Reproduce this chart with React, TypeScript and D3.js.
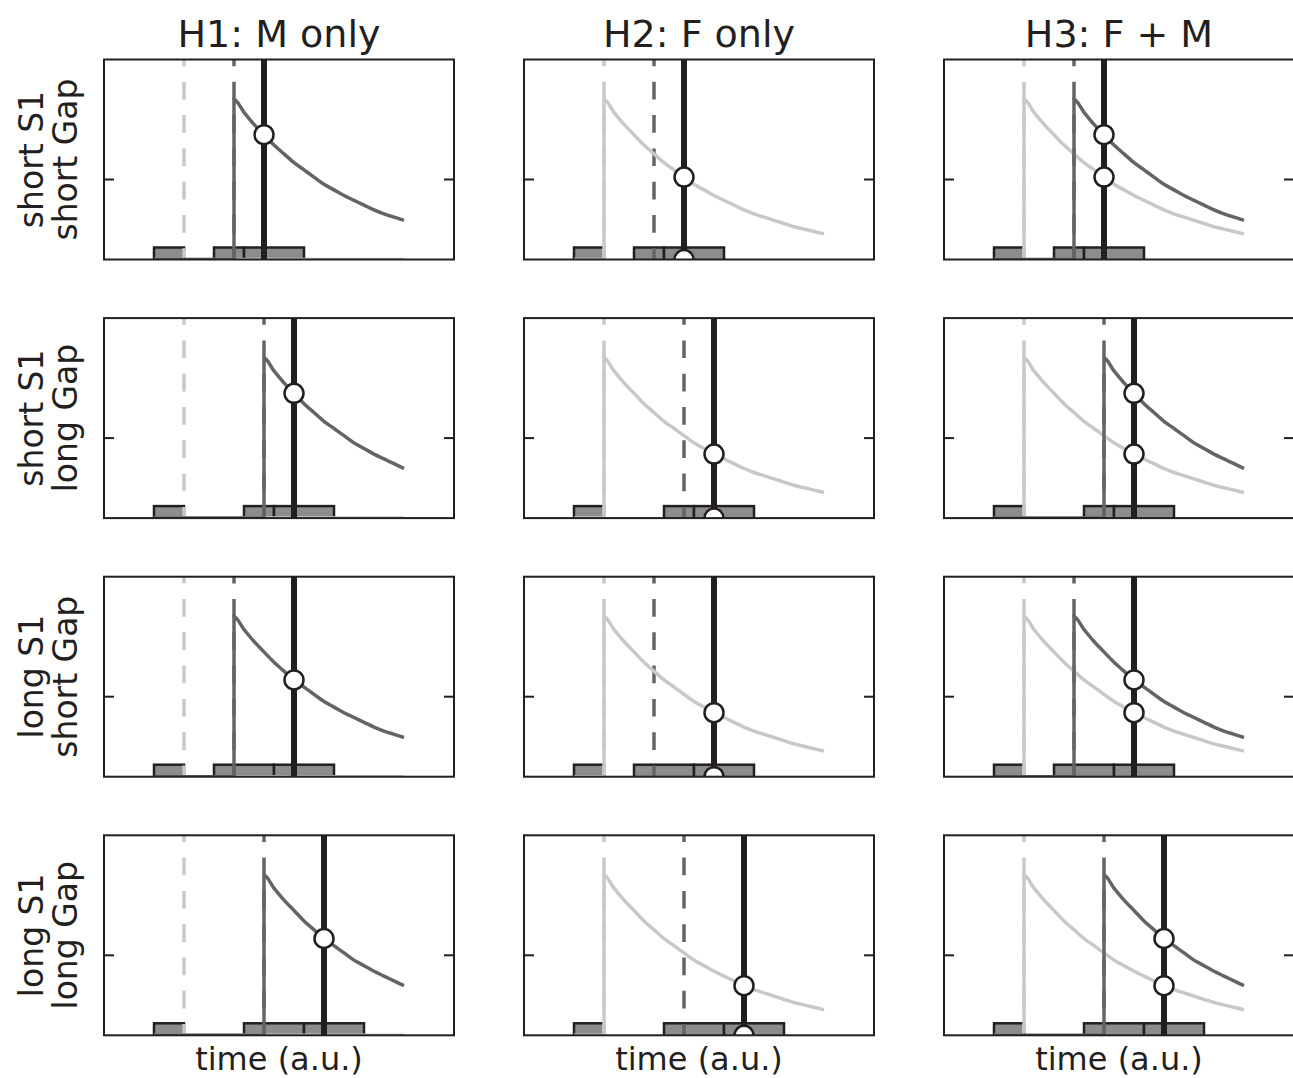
import React from "react";
import * as d3 from "d3";

// ---- data ----
const hypotheses = ["H1: M only", "H2: F only", "H3: F + M"];
const showF = [false, true, true];
const showM = [true, false, true];
const rowLabelTop = ["short S1", "short S1", "long S1", "long S1"];
const rowLabelBottom = ["short Gap", "long Gap", "short Gap", "long Gap"];
const cueStart = 0;
const cueEnd = 3; // F onset
const s1Onset = [6, 9, 6, 9];
const s1Duration = [3, 3, 6, 6];
const s2Duration = [6, 6, 6, 6];
const mOnset = [8, 11, 8, 11];
const probeTime = [11, 14, 14, 17];
const curveEnd = 25;
// trace value read at 0,1,2,... time units after onset
const decayProfile = [
  2.0, 1.84, 1.69, 1.56, 1.43, 1.32, 1.21, 1.12, 1.03, 0.94, 0.87, 0.8, 0.74,
  0.68, 0.62, 0.57, 0.53, 0.49, 0.45, 0.41, 0.38, 0.35, 0.32,
];
const barHeight = 0.15;
const xDomain = [-5, 30];
const yDomain = [0, 2.5];
const yTicks = [1];
const xLabel = "time (a.u.)";

// ---- style ----
const W = 1293;
const H = 1078;
const panelW = 350;
const panelH = 200;
const colLeft = [104, 524, 944];
const rowTop = [59.5, 318.1, 576.7, 835.3];
const BLACK = "#231f20";
const DARK = "#646464";
const LIGHT = "#c8c8c8";
const BAR = "#8c8c8c";
const FONT = "'DejaVu Sans', sans-serif";

function trace(onset: number): [number, number][] {
  const pts: [number, number][] = [[cueStart, 0], [onset, 0]];
  for (let i = 0; i < decayProfile.length; i++) {
    const t = onset + i;
    if (t > curveEnd) break;
    pts.push([t, decayProfile[i]]);
  }
  return pts;
}
function zeroTrace(): [number, number][] {
  return [[cueStart, 0], [curveEnd, 0]];
}
function valueAt(onset: number, t: number) {
  const i = t - onset;
  return i < 0 ? 0 : decayProfile[i];
}

function Panel({ r, c }: { r: number; c: number }) {
  const x = d3.scaleLinear().domain(xDomain).range([0, panelW]);
  const y = d3.scaleLinear().domain(yDomain).range([panelH, 0]);
  const line = d3
    .line<[number, number]>()
    .x((d) => x(d[0]))
    .y((d) => y(d[1]))
    .curve(d3.curveMonotoneX);
  const id = `clip-${r}-${c}`;
  const bars = [
    [cueStart, cueEnd],
    [s1Onset[r], s1Onset[r] + s1Duration[r]],
    [s1Onset[r] + s1Duration[r], s1Onset[r] + s1Duration[r] + s2Duration[r]],
  ];
  const pt = probeTime[r];
  const circles: number[] = [];
  if (showM[c]) circles.push(valueAt(mOnset[r], pt));
  if (showF[c]) circles.push(valueAt(cueEnd, pt));
  if (!showM[c]) circles.push(0);
  const dash = { strokeDasharray: "17.7,15.6", strokeDashoffset: 11 };
  const seg = (pts: [number, number][]) => {
    const flat = pts.slice(0, 2);
    const rest = pts.slice(2);
    return (line(flat) || "") + (rest.length ? "L" + (line([pts[1], ...rest]) || "").slice(1) : "");
  };
  return (
    <g transform={`translate(${colLeft[c]},${rowTop[r]})`}>
      <defs>
        <clipPath id={id}>
          <rect x={0} y={0} width={panelW} height={panelH} />
        </clipPath>
      </defs>
      <g clipPath={`url(#${id})`}>
        {bars.map((b, i) => (
          <rect
            key={i}
            x={x(b[0])}
            y={y(barHeight)}
            width={x(b[1]) - x(b[0])}
            height={y(0) - y(barHeight) + 2}
            fill={BAR}
            stroke={BLACK}
            strokeWidth={2.5}
          />
        ))}
        <line x1={x(cueEnd)} x2={x(cueEnd)} y1={0} y2={panelH} stroke={LIGHT} strokeWidth={3.5} {...dash} />
        <line x1={x(mOnset[r])} x2={x(mOnset[r])} y1={0} y2={panelH} stroke={DARK} strokeWidth={3.5} {...dash} />
        <path
          d={showF[c] ? seg(trace(cueEnd)) : line(zeroTrace()) || ""}
          fill="none"
          stroke={LIGHT}
          strokeWidth={3.5}
        />
        {showM[c] && (
          <path d={seg(trace(mOnset[r]))} fill="none" stroke={DARK} strokeWidth={3.5} />
        )}
        <line x1={x(pt)} x2={x(pt)} y1={0} y2={panelH} stroke={BLACK} strokeWidth={6} />
        {circles.map((v, i) => (
          <circle key={i} cx={x(pt)} cy={y(v)} r={9.5} fill="#fff" stroke={BLACK} strokeWidth={2.5} />
        ))}
      </g>
      <rect x={0} y={0} width={panelW} height={panelH} fill="none" stroke={BLACK} strokeWidth={2} />
      {yTicks.map((t) => (
        <g key={t}>
          <line x1={0} x2={10} y1={y(t)} y2={y(t)} stroke={BLACK} strokeWidth={2} />
          <line x1={panelW - 10} x2={panelW} y1={y(t)} y2={y(t)} stroke={BLACK} strokeWidth={2} />
        </g>
      ))}
    </g>
  );
}

export default function App() {
  return (
    <svg
      width={W}
      height={H}
      style={{ position: "absolute", left: 0, top: 0, background: "#fff" }}
      fontFamily={FONT}
    >
      <rect x={0} y={0} width={W} height={H} fill="#fff" />
      {hypotheses.map((h, c) => (
        <text key={h} x={colLeft[c] + panelW / 2} y={47} textAnchor="middle" fontSize={38} fill={BLACK}>
          {h}
        </text>
      ))}
      {rowLabelTop.map((lab, r) => {
        const cy = rowTop[r] + panelH / 2;
        return (
          <g key={r} transform={`translate(0,${cy}) rotate(-90)`}>
            <text x={0} y={43} textAnchor="middle" fontSize={33} fill={BLACK}>
              {lab}
            </text>
            <text x={0} y={77} textAnchor="middle" fontSize={33} fill={BLACK}>
              {rowLabelBottom[r]}
            </text>
          </g>
        );
      })}
      {hypotheses.map((h, c) => (
        <text key={h} x={colLeft[c] + panelW / 2} y={1070} textAnchor="middle" fontSize={32} fill={BLACK}>
          {xLabel}
        </text>
      ))}
      {rowTop.map((_, r) => hypotheses.map((__, c) => <Panel key={`${r}-${c}`} r={r} c={c} />))}
    </svg>
  );
}
